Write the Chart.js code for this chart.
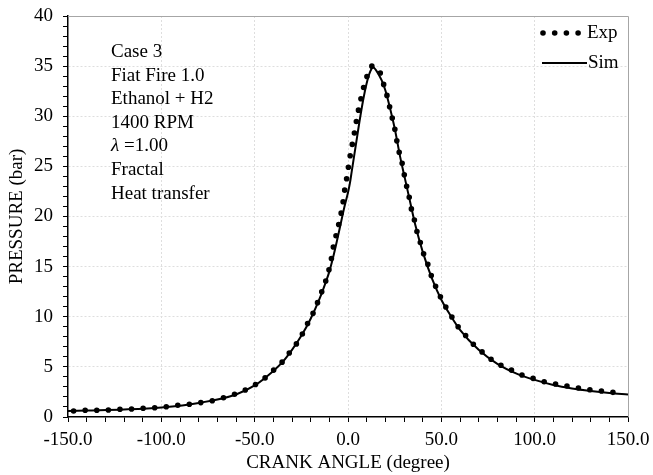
<!DOCTYPE html>
<html>
<head>
<meta charset="utf-8">
<script src="https://cdn.jsdelivr.net/npm/chart.js@4.4.1/dist/chart.umd.min.js"></script>
<style>
  html, body { margin: 0; padding: 0; background: #fff; }
  #wrap { width: 653px; height: 475px; }
</style>
</head>
<body>
<div id="wrap"><canvas id="c" width="653" height="475"></canvas></div>
<script>
// measured pressure (dotted)
const expAngle = [
  -147, -140, -134, -128, -122, -116, -110, -103, -97, -91, -85, -79, -72.5, -66.4, -60.7,
  -55, -49.3, -44.4, -39.7, -35.4, -31.4, -27.5, -24.6, -21.8, -18.75, -16.4, -14.1, -12,
  -10.3, -8.9, -7.9, -6.4, -5, -3.6, -2.6, -1.8, -0.8, 0.2, 1.2, 2.3, 3.4, 4.5, 5.6, 7,
  8.4, 10, 12.8, 15, 17.1, 18.9, 20.7, 22.1, 23.6, 25, 26, 27.3, 28.9, 30, 31.2, 32.7,
  33.9, 35.5, 36.8, 38.6, 40.3, 42.7, 44.5, 46.8, 49.4, 52.3, 55.5, 58.9, 63, 67.1, 71.6,
  76.6, 81.8, 87.3, 93, 98.9, 104.8, 111, 116.9, 123, 129.3, 135.4, 141.4, 147.5
]
const expPressure = [
  0.6, 0.67, 0.67, 0.7, 0.77, 0.8, 0.87, 0.93, 1.03, 1.17, 1.27, 1.43, 1.63, 1.93, 2.27,
  2.7, 3.27, 3.9, 4.7, 5.45, 6.4, 7.33, 8.23, 9.27, 10.33, 11.37, 12.47, 13.53,
  14.6, 15.8, 16.93, 18.1, 19.2, 20.4, 21.5, 22.6, 23.7, 24.9, 26.1, 27.2, 28.3, 29.5, 30.6, 31.8,
  32.9, 33.9, 35.0, 34.8, 34.4, 33.3, 32.2, 31.1, 29.9, 28.8, 27.7, 26.5, 25.4, 24.3, 23.2, 22.0,
  20.8, 19.7, 18.6, 17.5, 16.4, 15.27, 14.17, 13.1, 12.03, 11.0, 10.03, 9.03, 8.13, 7.27, 6.53,
  5.77, 5.17, 4.7, 4.2, 3.87, 3.53, 3.3, 3.1, 2.9, 2.73, 2.6, 2.47, 2.3
]

// simulated pressure (solid)
const simAngle = [
  -150, -140, -120, -100, -80, -60, -50, -40, -35, -30, -25, -20, -15, -12, -10, -8, -6, -4, -2,
  0, 1, 2, 3, 4, 5, 6, 8, 10, 12, 13.5, 15, 18, 20, 22, 25, 28, 30, 33, 36, 40, 45, 50,
  55, 60, 70, 80, 90, 100, 110, 120, 130, 140, 150
]
const simPressure = [
  0.6, 0.65, 0.75, 0.95, 1.4, 2.25, 3.15, 4.6, 5.5, 6.7, 8.1, 9.8, 11.9, 13.4, 14.5, 15.9, 17.5, 19.2, 20.9,
  22.4, 23.3, 24.5, 25.7, 26.9, 28.1, 29.3, 31.5, 33.3, 34.5, 34.9, 34.6, 33.6, 32.6, 31.2, 28.8, 25.9, 24.2, 21.7, 19.2, 16.5, 13.8, 11.7,
  10.1, 8.7, 6.7, 5.3, 4.35, 3.7, 3.2, 2.85, 2.6, 2.4, 2.25
]

const infoLines = ["Case 3", "Fiat Fire 1.0", "Ethanol + H2", "1400 RPM", "=1.00", "Fractal", "Heat transfer"]
const legendNames = ["Exp", "Sim"]

const SERIF = '"Liberation Serif", "Times New Roman", serif'
const pts = (xs, ys) => xs.map((x, i) => ({ x, y: ys[i] }))

// top/right frame, note block, legend
const extras = {
  id: "extras",
  afterDraw(chart) {
    const { ctx, chartArea: a } = chart
    ctx.save()
    ctx.strokeStyle = "#a6a6a6"
    ctx.lineWidth = 1
    ctx.beginPath()
    ctx.moveTo(a.left, a.top + 0.5)
    ctx.lineTo(a.right + 0.5, a.top + 0.5)
    ctx.lineTo(a.right + 0.5, a.bottom)
    ctx.stroke()

    ctx.fillStyle = "#000"
    ctx.font = "19px " + SERIF
    ctx.textBaseline = "middle"
    ctx.textAlign = "left"
    const x0 = a.left + 43
    infoLines.forEach((t, i) => {
      const y = a.top + 36 + i * 23.6
      if (i === 4) {
        ctx.font = "italic 19px " + SERIF
        ctx.fillText("\u03bb", x0, y)
        const w = ctx.measureText("\u03bb ").width
        ctx.font = "19px " + SERIF
        ctx.fillText(t, x0 + w, y)
      } else {
        ctx.fillText(t, x0, y)
      }
    })

    // legend
    const lx = a.right - 85
    const ly1 = a.top + 17, ly2 = a.top + 47
    ctx.fillStyle = "#000"
    for (let k = 0; k < 4; k++) {
      ctx.beginPath()
      ctx.arc(lx + k * 11.7, ly1, 2.8, 0, Math.PI * 2)
      ctx.fill()
    }
    ctx.strokeStyle = "#000"
    ctx.lineWidth = 2
    ctx.beginPath()
    ctx.moveTo(lx - 1, ly2)
    ctx.lineTo(lx + 44, ly2)
    ctx.stroke()
    ctx.fillText(legendNames[0], lx + 44, ly1)
    ctx.fillText(legendNames[1], lx + 45, ly2)
    ctx.restore()
  }
}

new Chart(document.getElementById("c"), {
  type: "line",
  data: {
    datasets: [
      {
        label: legendNames[1],
        data: pts(simAngle, simPressure),
        borderColor: "#000",
        borderWidth: 2,
        pointRadius: 0,
        cubicInterpolationMode: "monotone",
        order: 0,
      },
      {
        label: legendNames[0],
        data: pts(expAngle, expPressure),
        borderColor: "#000",
        borderWidth: 5.6,
        borderDash: [0, 11.6],
        borderCapStyle: "round",
        pointRadius: 0,
        cubicInterpolationMode: "monotone",
        order: 1,
      },
    ],
  },
  plugins: [extras],
  options: {
    responsive: false,
    animation: false,
    layout: { padding: { top: 16, right: 25, left: 0, bottom: 0 } },
    plugins: { legend: { display: false }, tooltip: { enabled: false } },
    scales: {
      x: {
        type: "linear",
        min: -150,
        max: 150,
        afterFit: s => { s.height = 58; s.paddingLeft = 0; s.paddingRight = 0 },
        ticks: {
          stepSize: 10,
          autoSkip: false,
          maxRotation: 0,
          padding: 7,
          color: "#000",
          font: { family: SERIF, size: 19 },
          callback: v => (v % 50 === 0 ? v.toFixed(1) : ""),
        },
        grid: {
          color: c => (c.tick && c.tick.value % 50 === 0 && Math.abs(c.tick.value) < 150 ? "#dedede" : "rgba(0,0,0,0)"),
          tickColor: "#000",
          tickLength: 5,
        },
        border: { color: "#000", width: 1.5, dash: [2, 2] },
        title: {
          display: true,
          text: "CRANK ANGLE (degree)",
          color: "#000",
          font: { family: SERIF, size: 19 },
          padding: { top: 0, bottom: 1 },
        },
      },
      y: {
        min: 0,
        max: 40,
        afterFit: s => { s.width = 68; s.paddingTop = 0; s.paddingBottom = 0 },
        ticks: {
          stepSize: 1,
          autoSkip: false,
          padding: 10,
          color: "#000",
          font: { family: SERIF, size: 19 },
          callback: v => (v % 5 === 0 ? String(v) : ""),
        },
        grid: {
          color: c => (c.tick && c.tick.value % 5 === 0 && c.tick.value > 0 && c.tick.value < 40 ? "#dedede" : "rgba(0,0,0,0)"),
          tickColor: "#000",
          tickLength: 5,
        },
        border: { color: "#000", width: 1.5, dash: [2, 2] },
        title: {
          display: true,
          text: "PRESSURE (bar)",
          color: "#000",
          font: { family: SERIF, size: 19 },
          padding: { top: 6, bottom: 4 },
        },
      },
    },
  },
})
</script>
</body>
</html>
